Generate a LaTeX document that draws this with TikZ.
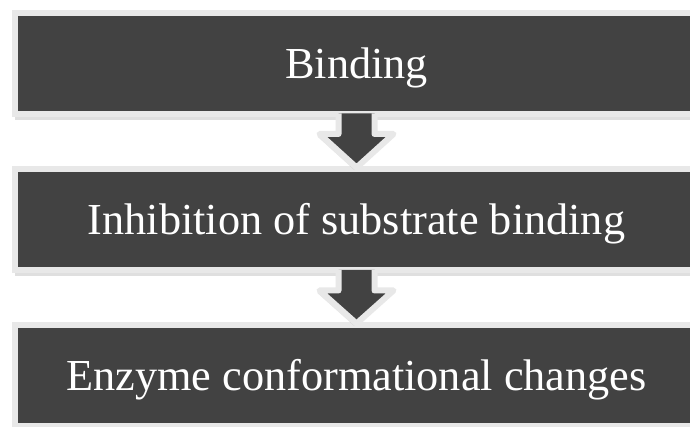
\documentclass[tikz,border=0pt]{standalone}
\usepackage{fontspec}
\setmainfont{Liberation Serif}
\usetikzlibrary{calc,shadows}
\definecolor{boxdark}{RGB}{66,66,66}
\definecolor{boxrim}{RGB}{232,232,232}

\begin{document}
\begin{tikzpicture}[x=0.75pt,y=-0.75pt,
  stepbox/.style={rectangle,draw=boxrim,line width=4.5pt,fill=boxdark,
    minimum width=512.25pt,minimum height=75.75pt,inner sep=0pt,
    text=white,font=\fontsize{33.2}{40}\selectfont,text height=22pt,text depth=0pt,
    drop shadow={opacity=.25,shadow xshift=0pt,shadow yshift=-4.5pt}},
  downarrow/.style={draw=boxrim,line width=4.5pt,fill=boxdark,line join=round,
    drop shadow={opacity=.2,shadow xshift=-1.5pt,shadow yshift=-2pt}}]
\useasboundingbox (0,0) rectangle (690,427);
\clip (0,0) rectangle (690,427);
\fill[white] (0,0) rectangle (690,427);
% the three steps
\node[stepbox] (bind) at (356.5,63.5) {Binding};
\node[stepbox] (inhib) at (356.5,220) {Inhibition of substrate binding};
\node[stepbox] (conf) at (356.5,376) {Enzyme conformational changes};
% block arrows between them
\foreach \a/\b in {bind/inhib,inhib/conf} {
  \path[downarrow] ($(\a.south)+(18,-3.5)$) -- ($(\a.south)+(18,17)$)
    -- ($(\a.south)+(37,17)$) -- ($(\b.north)+(0,1)$)
    -- ($(\a.south)+(-37,17)$) -- ($(\a.south)+(-18,17)$)
    -- ($(\a.south)+(-18,-3.5)$);
}
\end{tikzpicture}
\end{document}
